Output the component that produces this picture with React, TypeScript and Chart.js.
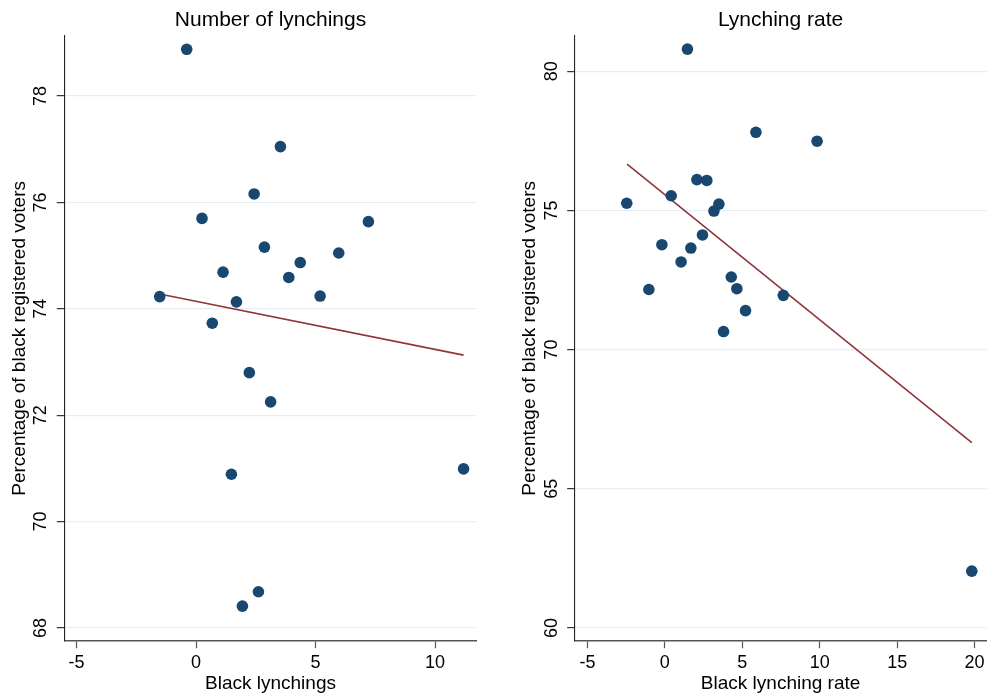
import React, { useEffect, useRef } from "react";
import { Chart, registerables } from "chart.js";

Chart.register(...registerables);

// ---------- Data ----------
// Left panel: Number of lynchings
const lynchX = [-0.39, 3.53, 2.43, 0.25, 7.21, 2.86, 5.97, 4.36, 1.13, 3.88, -1.52, 5.19, 1.69, 0.68, 2.23, 3.12, 1.48, 11.19, 2.61, 1.94];
const lynchY = [78.88, 77.05, 76.16, 75.7, 75.64, 75.16, 75.05, 74.87, 74.69, 74.59, 74.23, 74.24, 74.13, 73.73, 72.8, 72.25, 70.89, 70.99, 68.68, 68.41];
const lynchFitX = [-1.52, 11.19];
const lynchFitY = [74.28, 73.13];
const lynchXTicks = [-5, 0, 5, 10];
const lynchYTicks = [68, 70, 72, 74, 76, 78];

// Right panel: Lynching rate
const rateX = [1.46, 5.88, 9.83, 2.07, 2.71, 0.41, -2.46, 3.49, 3.17, 2.43, -0.19, 1.68, 1.05, 4.29, -1.03, 4.65, 7.65, 5.21, 3.79, 19.82];
const rateY = [80.8, 77.81, 77.49, 76.11, 76.08, 75.53, 75.26, 75.23, 74.98, 74.12, 73.77, 73.65, 73.15, 72.61, 72.16, 72.19, 71.95, 71.4, 70.65, 62.04];
const rateFitX = [-2.44, 19.82];
const rateFitY = [76.67, 66.66];
const rateXTicks = [-5, 0, 5, 10, 15, 20];
const rateYTicks = [60, 65, 70, 75, 80];

const yAxisTitle = "Percentage of black registered voters";

const FONT = "'Liberation Sans', Arial, Helvetica, sans-serif";
const MARKER = "#1a476f";
const FITLINE = "#90353b";
const GRID = "#e6eff1";

interface Panel {
  title: string;
  xTitle: string;
  xs: number[];
  ys: number[];
  fitX: number[];
  fitY: number[];
  xTicks: number[];
  yTicks: number[];
  xMin: number;
  xMax: number;
  yMin: number;
  yMax: number;
  width: number;
  axisLeft: number;
  padRight: number;
  yTitleCenter: number;
  yTickCenter: number;
}

const H = 698;
const AREA_TOP = 36;
const AREA_BOTTOM = 640.7;

const textPlugin = {
  id: "panelText",
  afterDraw(chart: any, _args: any, opts: any) {
    const { ctx, chartArea } = chart;
    ctx.save();
    ctx.fillStyle = "#000";
    ctx.textAlign = "center";
    ctx.textBaseline = "middle";
    ctx.font = `21px ${FONT}`;
    ctx.fillText(opts.title, (chartArea.left + chartArea.right) / 2, 20.5);
    const ys = chart.scales.y;
    ctx.font = `18px ${FONT}`;
    for (const t of ys.ticks) {
      const py = ys.getPixelForValue(t.value);
      ctx.save();
      ctx.translate(opts.yTickX, py);
      ctx.rotate(-Math.PI / 2);
      ctx.fillText(String(t.value), 0, 0);
      ctx.restore();
    }
    ctx.restore();
  },
};

function PanelChart({ p, left }: { p: Panel; left: number }) {
  const ref = useRef<HTMLCanvasElement | null>(null);
  useEffect(() => {
    if (!ref.current) return;
    const scatter = p.xs.map((x, i) => ({ x, y: p.ys[i] }));
    const fit = p.fitX.map((x, i) => ({ x, y: p.fitY[i] }));
    const chart = new Chart(ref.current, {
      type: "scatter",
      data: {
        datasets: [
          {
            data: scatter,
            backgroundColor: MARKER,
            borderColor: MARKER,
            borderWidth: 0,
            pointRadius: 5.8,
            pointHoverRadius: 5.8,
            clip: 8,
          } as any,
          {
            type: "line",
            data: fit,
            borderColor: FITLINE,
            borderWidth: 1.6,
            pointRadius: 0,
            fill: false,
            showLine: true,
          } as any,
        ],
      },
      options: {
        animation: false,
        responsive: false,
        maintainAspectRatio: false,
        layout: { autoPadding: false, padding: { left: 0, right: p.padRight, top: AREA_TOP, bottom: 0 } },
        plugins: {
          legend: { display: false },
          tooltip: { enabled: false },
          title: { display: false },
          panelText: { title: p.title, yTickX: p.yTickCenter },
        } as any,
        scales: {
          x: {
            type: "linear",
            min: p.xMin,
            max: p.xMax,
            afterBuildTicks: (s: any) => {
              s.ticks = p.xTicks.map((v) => ({ value: v }));
            },
            afterFit: (s: any) => {
              s.height = H - AREA_BOTTOM;
              s.paddingLeft = 0;
              s.paddingRight = 0;
            },
            grid: {
              display: true,
              drawOnChartArea: false,
              drawTicks: true,
              tickLength: 7.5,
              tickColor: "#555",
              tickWidth: 1.2,
            },
            border: { display: true, color: "#555", width: 1.6 },
            ticks: {
              color: "#000",
              font: { family: FONT, size: 18 },
              padding: 4.5,
              maxRotation: 0,
              autoSkip: false,
              callback: (v: any) => String(v),
            },
            title: {
              display: true,
              text: p.xTitle,
              color: "#000",
              font: { family: FONT, size: 19 },
              padding: { top: 0, bottom: 3 },
            },
          },
          y: {
            type: "linear",
            min: p.yMin,
            max: p.yMax,
            afterBuildTicks: (s: any) => {
              s.ticks = p.yTicks.map((v) => ({ value: v }));
            },
            afterFit: (s: any) => {
              s.width = p.axisLeft;
              s.paddingTop = 0;
              s.paddingBottom = 0;
            },
            grid: {
              display: true,
              drawOnChartArea: true,
              color: GRID,
              lineWidth: 1.3,
              drawTicks: true,
              tickLength: 7.5,
              tickColor: "#222",
              tickWidth: 1.1,
            },
            border: { display: true, color: "#222", width: 1.1 },
            ticks: { display: false },
            title: {
              display: true,
              text: yAxisTitle,
              color: "#000",
              font: { family: FONT, size: 19 },
              padding: { top: p.yTitleCenter - 11.4, bottom: 0 },
            },
          },
        },
      },
      plugins: [textPlugin as any],
    });
    return () => chart.destroy();
  }, [p]);
  return (
    <div style={{ position: "absolute", left, top: 0, width: p.width, height: H }}>
      <canvas ref={ref} width={p.width} height={H} style={{ width: p.width, height: H, display: "block" }} />
    </div>
  );
}

const leftPanel: Panel = {
  title: "Number of lynchings",
  xTitle: "Black lynchings",
  xs: lynchX,
  ys: lynchY,
  fitX: lynchFitX,
  fitY: lynchFitY,
  xTicks: lynchXTicks,
  yTicks: lynchYTicks,
  xMin: -5.51,
  xMax: 11.74,
  yMin: 67.76,
  yMax: 79.13,
  width: 493,
  axisLeft: 64.3,
  padRight: 493 - 476.7,
  yTitleCenter: 19.3,
  yTickCenter: 41,
};

const rightPanel: Panel = {
  title: "Lynching rate",
  xTitle: "Black lynching rate",
  xs: rateX,
  ys: rateY,
  fitX: rateFitX,
  fitY: rateFitY,
  xTicks: rateXTicks,
  yTicks: rateYTicks,
  xMin: -5.82,
  xMax: 20.77,
  yMin: 59.54,
  yMax: 81.27,
  width: 494,
  axisLeft: 81.7,
  padRight: 0.5,
  yTitleCenter: 37,
  yTickCenter: 58.7,
};

export default function App() {
  return (
    <div style={{ position: "fixed", left: 0, top: 0, width: 987, height: H, background: "#fff", overflow: "hidden" }}>
      <PanelChart p={leftPanel} left={0} />
      <PanelChart p={rightPanel} left={493} />
    </div>
  );
}
